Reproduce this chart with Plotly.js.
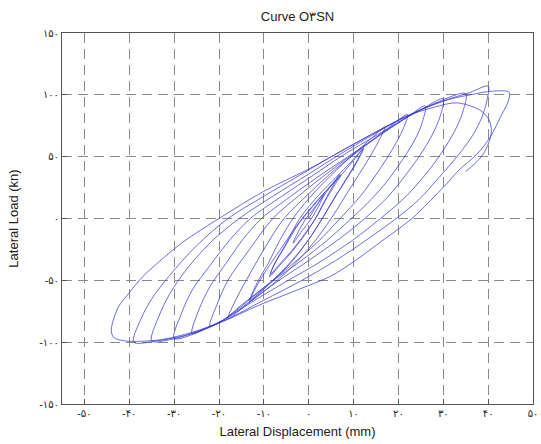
<!DOCTYPE html>
<html>
<head>
<meta charset="utf-8">
<script src="https://cdn.plot.ly/plotly-3.0.1.min.js"></script>
<style>html,body{margin:0;padding:0;background:#fff;}#chart{width:541px;height:444px;}</style>
</head>
<body>
<div id="chart"></div>
<script>
// Hysteresis loops, one segment per cycle (displacement mm, load kN)
const cyc1D = [0, 1.5, 3.5, 2.5, 0.6, -1.5, -3.5];
const cyc1F = [0, 9, 20, 12, 0, -10, -20];
const cyc2D = [-2.5, -0.6, 2, 4.5, 7, 5.5, 3.5, 1.5, -1, -4, -6.5, -8.7];
const cyc2F = [-12, 0, 12, 24, 36, 27, 14, 0, -14, -28, -38, -47];
const cyc2bD = [-7.8, -5.5, -2.2, 1, 4, 7.2, 5.8, 3.8, 1.7, -1, -4, -6.5, -8.5];
const cyc2bF = [-38, -24, -4, 10, 23, 35, 27, 15, 1, -13, -27, -37, -45];
const cyc3D = [-7.5, -5, -2, 2, 6, 9.5, 12, 10.5, 8, 5.5, 3, 0, -4, -8, -11, -13];
const cyc3F = [-36, -20, 0, 18, 33, 46, 56, 45, 30, 15, 0, -17, -35, -50, -60, -66];
const cyc3bD = [-11.8, -9.5, -6.5, -2.5, 2, 6.5, 10, 12.3, 10.8, 8.3, 5.6, 3.2, 0, -4, -8.2, -11.2, -13.2];
const cyc3bF = [-56, -42, -26, -5, 15, 32, 47, 57, 46, 31, 16, 1, -17, -36, -51, -61, -67];
const cyc4D = [-11.5, -9, -6.5, -3.5, 0, 5, 10, 14, 17, 15.5, 13, 9.5, 5, 1, -4, -9, -14, -18];
const cyc4F = [-52, -36, -18, 0, 16, 35, 52, 65, 74, 62, 46, 26, 0, -20, -40, -56, -70, -81];
const cyc5D = [-16, -13, -9.5, -5.5, 0, 6, 12, 17, 22, 21, 19, 15.5, 11.5, 7, 2, -4, -10, -15, -19, -22];
const cyc5F = [-64, -44, -22, 0, 20, 40, 57, 71, 84, 72, 58, 38, 18, 0, -19, -38, -56, -71, -82, -87];
const cyc6D = [-20.5, -18, -13, -8, -2, 5, 11, 17, 22, 26, 25.5, 24, 21, 17, 13, 9.5, 4, -2, -9, -15, -19, -23, -26];
const cyc6F = [-70, -50, -24, 0, 19, 39, 55, 70, 82, 91, 80, 66, 48, 28, 12, 0, -18, -35, -53, -70, -82, -89, -93];
const cyc7D = [-24.5, -22, -18, -14.5, -10.5, -4, 3, 10, 16, 22, 26, 30, 29.5, 28, 25.5, 22, 17.5, 12.5, 7, 0, -7, -13, -19, -24, -30];
const cyc7F = [-74, -55, -34, -16, 0, 18, 36, 53, 68, 82, 90, 97, 85, 71, 55, 37, 17, 0, -16, -34, -51, -67, -82, -91, -97];
const cyc8D = [-28.5, -26, -22, -17.5, -13, -6, 1, 8, 15, 22, 28, 35, 34.5, 33, 30.5, 27, 22, 16, 10, 3, -5, -12, -19, -26, -31, -35];
const cyc8F = [-78, -58, -38, -17, 0, 18, 35, 52, 67, 82, 93, 101, 88, 74, 58, 40, 19, 0, -17, -34, -51, -66, -82, -93, -98, -99];
const cyc9D = [-33.5, -31, -27, -21.5, -15.5, -8, 0, 7, 14, 22, 30, 36, 40, 39.7, 38.5, 36.5, 33.5, 29, 24.5, 19.5, 13, 6, -2, -10, -19, -27, -34, -39];
const cyc9F = [-80, -61, -40, -18, 0, 18, 36, 52, 67, 83, 95, 102, 107, 95, 81, 67, 52, 33, 15, 0, -17, -34, -51, -66, -83, -94, -99, -100];
const cyc10D = [-37.5, -35, -31, -25, -18, -10, -2, 6, 14, 22, 30, 36, 41, 44.7, 44.4, 43, 40.5, 37.5, 33.6, 30.2, 23, 16, 10, 4.7, -2, -11, -19, -26, -33, -41, -43.5, -44];
const cyc10F = [-82, -65, -46, -22, 0, 18, 35, 52, 68, 83, 95, 100, 103, 102, 94, 84, 66, 52, 39.5, 26, 0, -19, -35, -47, -57, -70, -83, -92, -98, -99, -96, -90];
const cyc11D = [-42.5, -40, -37, -34, -28, -20, -10, 0, 9, 16, 22, 28, 33, 38, 40.2, 40.7, 39.5, 38, 35];
const cyc11F = [-72, -60, -47, -37, -19, 0, 22, 40, 58, 72, 83, 90, 93.5, 88, 80, 69, 56, 48, 38];

const tickVals = [-50, -40, -30, -20, -10, 0, 10, 20, 30, 40, 50];
const tickTextX = ['-۵۰', '-۴۰', '-۳۰', '-۲۰', '-۱۰', '۰', '۱۰', '۲۰', '۳۰', '۴۰', '۵۰'];
const yTickVals = [-150, -100, -50, 0, 50, 100, 150];
const yTickText = ['-۱۵۰', '-۱۰۰', '-۵۰', '۰', '۵۰', '۱۰۰', '۱۵۰'];

const dispAll = [].concat(cyc1D, cyc2D, cyc2bD, cyc3D, cyc3bD, cyc4D, cyc5D, cyc6D, cyc7D, cyc8D, cyc9D, cyc10D, cyc11D);
const loadAll = [].concat(cyc1F, cyc2F, cyc2bF, cyc3F, cyc3bF, cyc4F, cyc5F, cyc6F, cyc7F, cyc8F, cyc9F, cyc10F, cyc11F);

const trace = {
  x: dispAll, y: loadAll, type: 'scatter', mode: 'lines',
  line: {color: 'rgb(60,60,210)', width: 0.75, shape: 'spline', smoothing: 0.9},
  hoverinfo: 'skip'
};

const axisCommon = {
  showline: true, mirror: true, linecolor: '#555', linewidth: 1,
  ticks: 'inside', ticklen: 5, tickcolor: '#555',
  showgrid: true, gridcolor: '#8a8a8a', gridwidth: 1, griddash: '10px,6px',
  zeroline: false,
  tickfont: {family: 'DejaVu Sans, Liberation Sans, sans-serif', size: 10, color: '#222'}
};

const layout = {
  width: 541, height: 444,
  margin: {l: 62, r: 8, t: 33, b: 40},
  paper_bgcolor: '#fff', plot_bgcolor: '#fff',
  showlegend: false,
  title: {text: 'Curve O۳SN', x: 0.5, xref: 'paper', y: 0.962, yref: 'container', yanchor: 'middle',
          font: {family: 'Liberation Sans, Arial, sans-serif', size: 13, color: '#222'}},
  xaxis: Object.assign({}, axisCommon, {
    range: [-55, 50], tickvals: tickVals, ticktext: tickTextX,
    title: {text: 'Lateral Displacement (mm)', standoff: 8,
            font: {family: 'Liberation Sans, Arial, sans-serif', size: 13, color: '#222'}}
  }),
  yaxis: Object.assign({}, axisCommon, {
    range: [-150, 150], tickvals: yTickVals, ticktext: yTickText,
    title: {text: 'Lateral Load (kn)', standoff: 17,
            font: {family: 'Liberation Sans, Arial, sans-serif', size: 13, color: '#222'}}
  })
};

Plotly.newPlot('chart', [trace], layout, {displayModeBar: false, staticPlot: true});
</script>
</body>
</html>
